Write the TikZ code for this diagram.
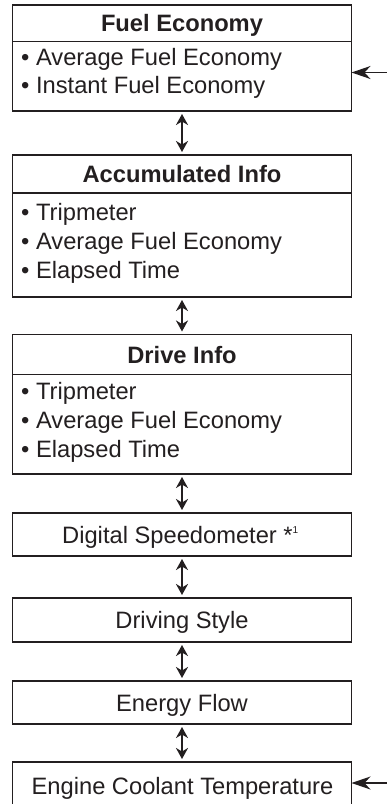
\documentclass[tikz,border=0pt]{standalone}
\usepackage{fontspec}
\setmainfont{Liberation Sans}
\usetikzlibrary{arrows.meta}
\definecolor{ink}{HTML}{231F20}
\begin{document}
\begin{tikzpicture}[x=1pt,y=-1pt,
  box/.style={draw=ink, line width=1.3pt, minimum width=339pt, inner sep=0pt, outer sep=0pt, anchor=north west},
  txt/.style={text=ink, font=\fontsize{23.7}{28}\selectfont, inner sep=0pt, anchor=base},
  head/.style={txt, font=\fontsize{23.7}{28}\selectfont\bfseries},
  item/.style={txt, anchor=base west},
  dbl/.style={draw=ink, line width=1.8pt, {Stealth[length=11pt,width=12pt,inset=3.5pt]}-{Stealth[length=11pt,width=12pt,inset=3.5pt]}, shorten >=3pt, shorten <=3pt},
  side/.style={draw=ink, line width=1.5pt, -{Stealth[length=19pt,width=13pt,inset=6pt]}}
]
\clip (0,0) rectangle (387,804);
\fill[white] (0,0) rectangle (387,804);
% Fuel Economy
\node[box, minimum height=36.5pt] (feh) at (12.5,5) {};
\node[box, minimum height=69.5pt] (feb) at (feh.south west) {};
\node[head] (fet) at (182,31.7) {Fuel Economy};
\node[item] (fe1) at (21,65.7) {• Average Fuel Economy};
\node[item] (fe2) at (21,93.3) {• Instant Fuel Economy};
% Accumulated Info
\node[box, minimum height=38pt] (ach) at (12.5,155) {};
\node[box, minimum height=104pt] (acb) at (ach.south west) {};
\node[head] (act) at (182,182.5) {Accumulated Info};
\node[item] (ac1) at (21,220) {• Tripmeter};
\node[item] (ac2) at (21,249) {• Average Fuel Economy};
\node[item] (ac3) at (21,278.3) {• Elapsed Time};
% Drive Info
\node[box, minimum height=40pt] (dih) at (12.5,334.5) {};
\node[box, minimum height=99.5pt] (dib) at (dih.south west) {};
\node[head] (dit) at (182,363) {Drive Info};
\node[item] (di1) at (21,399) {• Tripmeter};
\node[item] (di2) at (21,428.3) {• Average Fuel Economy};
\node[item] (di3) at (21,457.3) {• Elapsed Time};
% single boxes
\node[box, minimum height=43pt] (ds) at (12.5,513) {};
\node[txt, anchor=base west] (dst) at (62,543) {Digital Speedometer *\raisebox{9.5pt}{\fontsize{10}{10}\selectfont 1}};
\node[box, minimum height=44pt] (dr) at (12.5,598) {};
\node[txt] (drt) at (182,628.5) {Driving Style};
\node[box, minimum height=43pt] (ef) at (12.5,681) {};
\node[txt] (eft) at (182,711) {Energy Flow};
\node[box, minimum height=44pt] (ec) at (12.5,762) {};
\node[txt] (ect) at (182.5,794) {Engine Coolant Temperature};
% vertical double arrows
\draw[dbl] (feb.south) -- (ach.north);
\draw[dbl] (acb.south) -- (dih.north);
\draw[dbl] (dib.south) -- (ds.north);
\draw[dbl] (ds.south) -- (dr.north);
\draw[dbl] (dr.south) -- (ef.north);
\draw[dbl] (ef.south) -- (ec.north);
% side arrows
\coordinate (in1) at (387,72.5);
\coordinate (in2) at (387,783);
\draw[side] (in1) -- (feb.east |- in1);
\draw[side] (in2) -- (ec.east |- in2);
\end{tikzpicture}
\end{document}
